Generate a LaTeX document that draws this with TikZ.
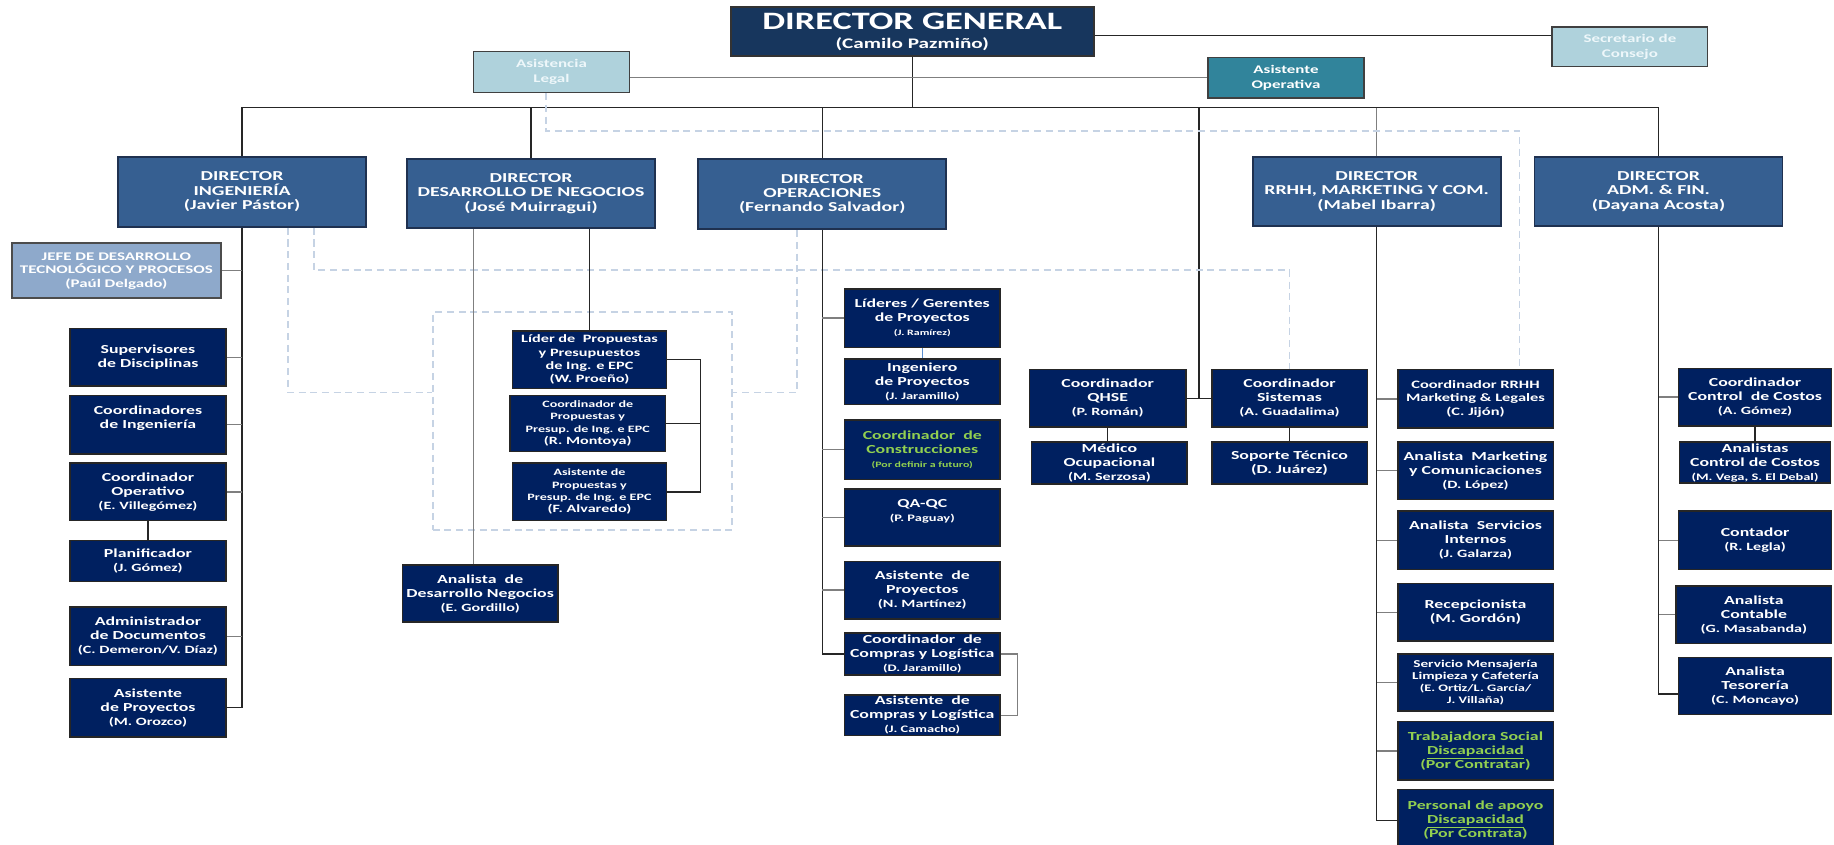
\documentclass[tikz,border=0pt]{standalone}
\usepackage{fontspec}
\setmainfont{Carlito}[FakeStretch=1.45]
\usetikzlibrary{calc}

\definecolor{navy}{HTML}{002060}
\definecolor{dirblue}{HTML}{365F91}
\definecolor{dirline}{HTML}{1F3150}
\definecolor{dgblue}{HTML}{17365D}
\definecolor{paleblue}{HTML}{AFD2DC}
\definecolor{paletext}{HTML}{EEF7FA}
\definecolor{tealbox}{HTML}{31849B}
\definecolor{steel}{HTML}{8EA9CB}
\definecolor{futuregreen}{HTML}{92D050}
\definecolor{dashblue}{HTML}{C6D3E4}
\definecolor{trunk}{HTML}{262626}
\definecolor{branch}{HTML}{7F7F7F}
\definecolor{linkblue}{HTML}{5B8FD0}

% box from its corners: style, x1, y1, x2, y2, name, text
\newcommand\orgbox[7]{\node[#1, minimum width={(#4)-(#2)}, minimum height={(#5)-(#3)}] (#6) at ({((#2)+(#4))/2},{((#3)+(#5))/2}) {#7};}
\newcommand\nmS[1]{{\fontsize{7}{8.5}\selectfont #1}}
\newcommand\nmM[1]{{\fontsize{8.5}{10}\selectfont #1}}
\newcommand\nmL[1]{{\fontsize{9.5}{11}\selectfont #1}}

\begin{document}
\begin{tikzpicture}[x=1pt,y=-1pt,
  orgnode/.style={draw=black!85, line width=1.3pt, fill=navy, text=white, align=center, inner sep=1pt, font=\bfseries\fontsize{10.5}{12}\selectfont},
  greennode/.style={orgnode, text=futuregreen},
  dirnode/.style={draw=dirline, line width=1.5pt, fill=dirblue, text=white, align=center, inner sep=1pt, font=\bfseries\fontsize{11.7}{12.3}\selectfont},
  dgnode/.style={draw=black!80, line width=1.5pt, fill=dgblue, text=white, align=center, inner sep=1pt, font=\bfseries},
  palenode/.style={draw=black!75, line width=1.3pt, fill=paleblue, text=paletext, align=center, inner sep=1pt, font=\bfseries\fontsize{10}{12.5}\selectfont},
  tealnode/.style={palenode, fill=tealbox, text=white},
  jefenode/.style={draw=black!70, line width=2pt, fill=steel, text=white, align=center, inner sep=1pt, font=\bfseries\fontsize{10}{11.5}\selectfont},
  dashframe/.style={draw=dashblue, line width=1.5pt, dash pattern=on 6pt off 4pt, fill=none},
  dashline/.style={draw=dashblue, line width=1.5pt, dash pattern=on 6pt off 4pt},
  trunkline/.style={draw=trunk, line width=1.2pt},
  branchline/.style={draw=branch, line width=1.2pt},
  linkline/.style={draw=linkblue, line width=1pt},
]
\fill[white] (0,0) rectangle (1568,722);
\useasboundingbox (0,0) rectangle (1568,722);

% ---------- top level ----------
\orgbox{dgnode}{625}{6}{935}{48}{dg}{{\fontsize{21.4}{22}\selectfont DIRECTOR GENERAL}\\[4pt]{\fontsize{12.5}{13}\selectfont (Camilo Pazmiño)}}
\orgbox{palenode}{1327}{23}{1460}{57}{sec}{Secretario de\\Consejo}
\orgbox{palenode}{405}{44}{538}{79}{legal}{Asistencia\\Legal}
\orgbox{tealnode}{1033}{49}{1166}{84}{oper}{Asistente\\Operativa}

% ---------- directors ----------
\orgbox{dirnode}{101}{134}{313}{194}{ding}{DIRECTOR\\INGENIERÍA\\(Javier Pástor)}
\orgbox{dirnode}{348}{136}{560}{195}{ddes}{DIRECTOR\\DESARROLLO DE NEGOCIOS\\(José Muirragui)}
\orgbox{dirnode}{597}{136}{809}{196}{dope}{DIRECTOR\\OPERACIONES\\(Fernando Salvador)}
\orgbox{dirnode}{1071}{134}{1283}{193}{drrhh}{DIRECTOR\\RRHH, MARKETING Y COM.\\(Mabel Ibarra)}
\orgbox{dirnode}{1312}{134}{1524}{193}{dadm}{DIRECTOR\\ADM. \& FIN.\\(Dayana Acosta)}

% ---------- engineering ----------
\orgbox{jefenode}{10}{208}{189}{255}{jefe}{JEFE DE DESARROLLO\\TECNOLÓGICO Y PROCESOS\\(Paúl Delgado)}
\orgbox{orgnode}{60}{281}{193}{330}{sup}{Supervisores\\de Disciplinas}
\orgbox{orgnode}{60}{338}{193}{388}{cing}{Coordinadores\\de Ingeniería\\~}
\orgbox{orgnode}{60}{396}{193}{445}{cop}{Coordinador\\Operativo\\\nmL{(E. Villegómez)}}
\orgbox{orgnode}{60}{462}{193}{497}{plan}{Planificador\\\nmL{(J. Gómez)}}
\orgbox{orgnode}{60}{519}{193}{569}{adoc}{Administrador\\de Documentos\\\nmL{(C. Demeron/V. Díaz)}}
\orgbox{orgnode}{60}{580}{193}{630}{aproy}{Asistente\\de Proyectos\\\nmL{(M. Orozco)}}

% ---------- business development ----------
\orgbox{dashframe}{370}{267}{626}{453}{grp}{}
\orgbox{orgnode, font=\bfseries\fontsize{9.6}{11.4}\selectfont}{438}{283}{570}{332}{lider}{Líder de~ Propuestas\\y Presupuestos\\de Ing. e EPC\\(W. Proeño)}
\orgbox{orgnode, font=\bfseries\fontsize{8.3}{10.5}\selectfont}{436}{338}{569}{386}{cprop}{Coordinador de\\Propuestas y\\Presup. de Ing. e EPC\\\nmL{(R. Montoya)}}
\orgbox{orgnode, font=\bfseries\fontsize{8.3}{10.5}\selectfont}{438}{396}{570}{445}{aprop}{Asistente de\\Propuestas y\\Presup. de Ing. e EPC\\\nmL{(F. Alvaredo)}}
\orgbox{orgnode}{344}{483}{477}{532}{adn}{Analista~ de\\Desarrollo Negocios\\\nmL{(E. Gordillo)}}

% ---------- operations ----------
\orgbox{orgnode}{722}{247}{855}{297}{lg}{Líderes / Gerentes\\de Proyectos\\\nmS{(J. Ramírez)}}
\orgbox{orgnode}{722}{307}{855}{346}{ingp}{Ingeniero\\de Proyectos\\\nmM{(J. Jaramillo)}}
\orgbox{greennode}{722}{359}{855}{410}{ccons}{Coordinador~ de\\Construcciones\\\nmS{(Por definir a futuro)}}
\orgbox{orgnode}{722}{418}{855}{467}{qaqc}{QA-QC\\\nmM{(P. Paguay)}\\~}
\orgbox{orgnode}{722}{480}{855}{529}{aproy2}{Asistente~ de\\Proyectos\\\nmL{(N. Martínez)}}
\orgbox{orgnode}{722}{541}{855}{577}{ccl}{Coordinador~ de\\Compras y Logística\\\nmM{(D. Jaramillo)}}
\orgbox{orgnode}{722}{594}{855}{629}{acl}{Asistente~ de\\Compras y Logística\\\nmM{(J. Camacho)}}

% ---------- QHSE and systems ----------
\orgbox{orgnode}{880}{316}{1014}{365}{qhse}{Coordinador\\QHSE\\\nmL{(P. Román)}}
\orgbox{orgnode}{1036}{316}{1169}{365}{sis}{Coordinador\\Sistemas\\\nmL{(A. Guadalima)}}
\orgbox{orgnode}{882}{378}{1015}{414}{med}{Médico\\Ocupacional\\\nmL{(M. Serzosa)}}
\orgbox{orgnode}{1036}{378}{1169}{414}{sop}{Soporte Técnico\\(D. Juárez)}

% ---------- human resources ----------
\orgbox{orgnode, font=\bfseries\fontsize{9.7}{11.5}\selectfont}{1195}{316}{1328}{366}{crrhh}{Coordinador RRHH\\Marketing \& Legales\\(C. Jijón)}
\orgbox{orgnode}{1195}{378}{1328}{427}{amc}{Analista~ Marketing\\y Comunicaciones\\\nmL{(D. López)}}
\orgbox{orgnode}{1195}{437}{1328}{487}{asi}{Analista~ Servicios\\Internos\\\nmL{(J. Galarza)}}
\orgbox{orgnode}{1195}{499}{1328}{548}{rec}{Recepcionista\\(M. Gordón)}
\orgbox{orgnode, font=\bfseries\fontsize{9}{10.5}\selectfont}{1195}{559}{1328}{608}{smlc}{Servicio Mensajería\\Limpieza y Cafetería\\\nmM{(E. Ortiz/L. García/}\\\nmM{J. Villaña)}}
\orgbox{greennode}{1195}{617}{1328}{667}{tsd}{Trabajadora Social\\\underline{Discapacidad}\\(Por Contratar)}
\orgbox{greennode}{1195}{675}{1328}{728}{pad}{Personal de apoyo\\\underline{Discapacidad}\\(Por Contrata)}

% ---------- administration and finance ----------
\orgbox{orgnode}{1435}{315}{1566}{364}{ccc}{Coordinador\\Control~ de Costos\\\nmL{(A. Gómez)}}
\orgbox{orgnode}{1436}{378}{1565}{413}{acc}{Analistas\\Control de Costos\\\nmM{(M. Vega, S. El Debal)}}
\orgbox{orgnode}{1435}{437}{1566}{487}{cont}{Contador\\\nmL{(R. Legla)}}
\orgbox{orgnode}{1433}{501}{1566}{550}{acont}{Analista\\Contable\\\nmL{(G. Masabanda)}}
\orgbox{orgnode}{1435}{562}{1566}{611}{ates}{Analista\\Tesorería\\\nmL{(C. Moncayo)}}

% ---------- reporting lines ----------
\coordinate (bus) at (0,92);
\draw[trunkline] (dg.south) -- (dg.south |- bus);
\draw[trunkline] (ding.north) -- (ding.north |- bus) -- (dadm.north |- bus) -- (dadm.north);
\draw[trunkline] (ddes.north) -- (ddes.north |- bus);
\draw[trunkline] (dope.north) -- (dope.north |- bus);
\draw[branchline] (drrhh.north) -- (drrhh.north |- bus);
\coordinate (qs) at ($(qhse.east)!0.5!(sis.west)$);
\draw[trunkline] (qhse.east) -- (sis.west);
\draw[trunkline] (qs) -- (qs |- bus);
\draw[trunkline] ([yshift=-3.5pt]dg.east) -- ([yshift=-3.5pt]dg.east -| sec.west);
\draw[branchline] (legal.east |- oper.west) -- (oper.west);

% dotted-line relations
\coordinate (lgA) at (1299,112);
\draw[dashline] ([xshift=-5pt]legal.south) |- (lgA) -- (lgA |- crrhh.north);
\coordinate (engA) at (268.5,231);
\draw[dashline] (engA |- ding.south) -- (engA) -| (sis.north);
\coordinate (engB) at (246,335.5);
\draw[dashline] (engB |- ding.south) -- (engB) -- (engB -| grp.west);
\coordinate (opsA) at (681.5,335.5);
\draw[dashline] (opsA |- dope.south) -- (opsA) -- (opsA -| grp.east);

% engineering
\draw[trunkline] (ding.south) |- (aproy.east);
\foreach \n in {jefe,sup,cing,cop,adoc}
  \draw[branchline] (\n.east) -- (\n.east -| ding.south);
\draw[trunkline] (cop.south) -- (plan.north);

% business development
\draw[branchline] ([xshift=-5.5pt]adn.north) -- ([xshift=-5.5pt]adn.north |- ddes.south);
\draw[trunkline] (lider.north) -- (lider.north |- ddes.south);
\coordinate (br) at (599,0);
\draw[trunkline] (lider.east) -- (lider.east -| br) |- (aprop.east);
\draw[trunkline] (cprop.east) -- (cprop.east -| br);

% operations
\draw[trunkline] (dope.south) |- (ccl.west);
\foreach \n in {lg,ccons,qaqc,aproy2}
  \draw[branchline] (\n.west) -- (\n.west -| dope.south);
\draw[linkline] (lg.south) -- (ingp.north);
\coordinate (cb) at (870,0);
\draw[branchline] (ccl.east) -- (ccl.east -| cb) |- (acl.east);

% QHSE and systems
\draw[trunkline] (qhse.south) -- (qhse.south |- med.north);
\draw[trunkline] (sis.south) -- (sop.north);

% human resources
\draw[trunkline] (drrhh.south) |- (pad.west);
\foreach \n in {crrhh,amc,asi,rec,smlc,tsd}
  \draw[branchline] (\n.west) -- (\n.west -| drrhh.south);

% administration and finance
\draw[trunkline] (dadm.south) |- ([yshift=-7pt]ates.west);
\foreach \n in {ccc,cont,acont}
  \draw[branchline] (\n.west) -- (\n.west -| dadm.south);
\draw[trunkline] (ccc.south) -- (ccc.south |- acc.north);
\end{tikzpicture}
\end{document}
